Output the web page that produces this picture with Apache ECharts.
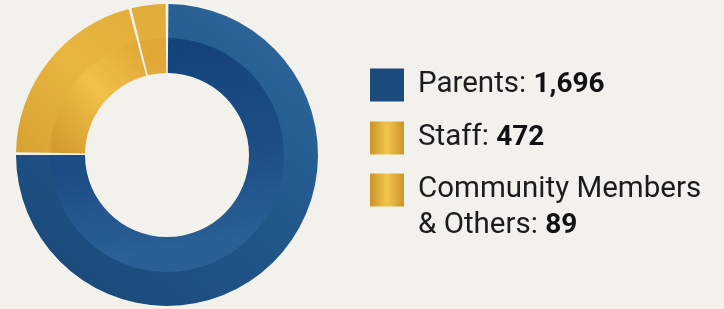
<!DOCTYPE html>
<html>
<head>
<meta charset="utf-8">
<script src="https://cdn.jsdelivr.net/npm/echarts@6/dist/echarts.min.js"></script>
<style>
    html, body { margin: 0; padding: 0; background: #f2f1ec; }
    #chart { width: 724px; height: 309px; }
</style>
</head>
<body>
<div id="chart"></div>
<script>
// data
const groups = ['Parents', 'Staff', 'Community Members & Others'];
const counts = [1696, 472, 89];
const labelText = ['Parents: ', 'Staff: ', 'Community Members\n& Others: '];

// colours
const blueOuter = {
    type: 'linear', global: true, x: 300, y: 10, x2: 60, y2: 300,
    colorStops: [{ offset: 0, color: '#2f689d' }, { offset: 0.5, color: '#215689' }, { offset: 1, color: '#1a497b' }]
};
const blueInner = {
    type: 'linear', global: true, x: 200, y: 40, x2: 230, y2: 240,
    colorStops: [{ offset: 0, color: '#13437a' }, { offset: 0.6, color: '#1d4f86' }, { offset: 1, color: '#2a6096' }]
};
const goldOuter = {
    type: 'linear', global: true, x: 20, y: 150, x2: 160, y2: 10,
    colorStops: [{ offset: 0, color: '#d8a232' }, { offset: 0.5, color: '#e9b640' }, { offset: 1, color: '#e1ab39' }]
};
const goldInner = {
    type: 'linear', global: true, x: 60, y: 150, x2: 160, y2: 60,
    colorStops: [{ offset: 0, color: '#d49c2e' }, { offset: 0.5, color: '#f0c048' }, { offset: 1, color: '#dfa736' }]
};
const goldIcon = {
    type: 'linear', x: 0, y: 0, x2: 1, y2: 0,
    colorStops: [{ offset: 0, color: '#c99428' }, { offset: 0.5, color: '#f2c64e' }, { offset: 1, color: '#c99428' }]
};
const outerColors = [blueOuter, goldOuter, goldOuter];
const innerColors = [blueInner, goldInner, goldInner];
const iconColors = ['#1b4a7c', goldIcon, goldIcon];
// legend 3 text sticks out one half line above its icon
const legendTops = [67, 120, 136];

const fmt = n => n.toLocaleString('en-US');

function ring(radius, colors) {
    return {
        type: 'pie',
        center: [167, 155],
        radius: radius,
        startAngle: 90,
        clockwise: true,
        padAngle: 1.1,
        label: { show: false },
        labelLine: { show: false },
        emphasis: { disabled: true },
        silent: true,
        data: groups.map((g, i) => ({ name: g, value: counts[i], itemStyle: { color: colors[i] } }))
    };
}

const myChart = echarts.init(document.getElementById('chart'));

myChart.setOption({
    backgroundColor: '#f2f1ec',
    animation: false,
    legend: groups.map((g, i) => ({
        data: [{ name: g, itemStyle: { color: iconColors[i] } }],
        orient: 'vertical',
        left: 370,
        top: legendTops[i],
        padding: 0,
        icon: 'rect',
        itemWidth: 34,
        itemHeight: 33,
        selectedMode: false,
        formatter: () => labelText[i].split('\n').map((t, k, arr) =>
            k === arr.length - 1 ? `{n|${t}}{b|${fmt(counts[i])}}` : `{n|${t}}`).join('\n'),
        textStyle: {
            padding: i === 2 ? [36, 0, 0, 9] : [0, 0, 0, 9],
            lineHeight: 36,
            rich: {
                n: { fontFamily: 'Roboto', fontSize: 29.5, color: '#1c1c1c', lineHeight: 36 },
                b: { fontFamily: 'Roboto', fontSize: 28, fontWeight: 'bold', color: '#111', lineHeight: 36 }
            }
        }
    })),
    series: [
        ring([116, 151], outerColors),
        ring([82, 117], innerColors)
    ]
});
</script>
</body>
</html>
